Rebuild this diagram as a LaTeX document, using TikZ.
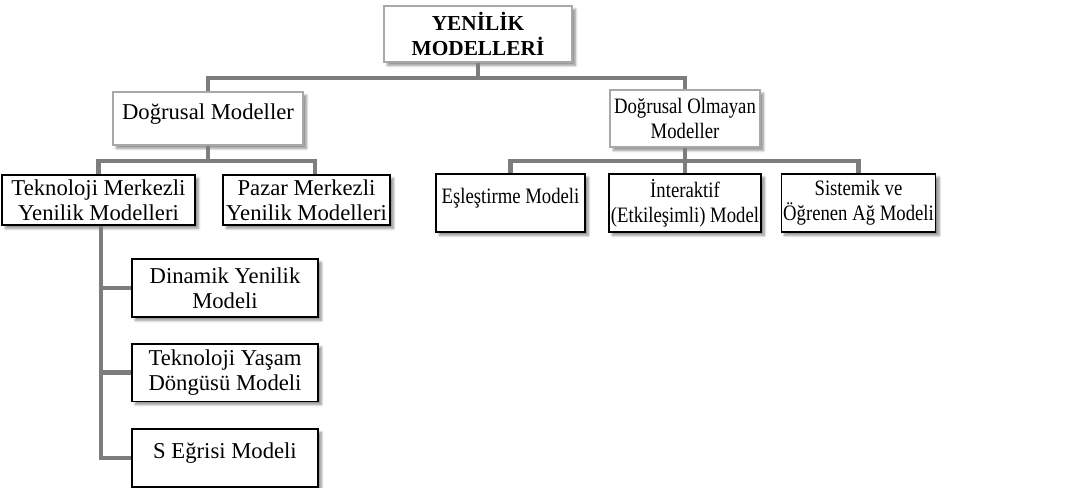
\documentclass[tikz,border=0pt]{standalone}
\usepackage{fontspec}
\setmainfont{Liberation Serif}
\newfontfamily\narrowserif[FakeStretch=0.85]{Liberation Serif}
\usetikzlibrary{shadows,shadows.blur,positioning}
\definecolor{bargray}{HTML}{7D7D7D}
\definecolor{framegray}{HTML}{A8A8A8}

\begin{document}
\begin{tikzpicture}[x=0.75pt, y=-0.75pt,
  box/.style={fill=white, line width=1pt, align=center, inner sep=1.5pt,
    font=\fontsize{17}{18.5}\selectfont,
    blur shadow={shadow xshift=2.5pt, shadow yshift=-2.5pt, shadow blur steps=6, shadow opacity=45}},
  narrow/.style={font=\narrowserif\fontsize{16.5}{19}\selectfont},
  headbox/.style={box, draw=framegray},
  leafbox/.style={box, draw=black},
  upper/.style={text depth=11pt},
  conn/.style={draw=bargray, line width=3.2pt}]
  \useasboundingbox (0,0) rectangle (1066,488);

  % root
  \node[headbox, minimum width=141pt, minimum height=42pt,
        font=\fontsize{16}{19}\selectfont\bfseries] (root) at (478,34) {YENİLİK\\MODELLERİ};

  % second level
  \node[headbox, upper, minimum width=142.5pt, minimum height=39.75pt] (dm) at (208,118.5) {Doğrusal Modeller};
  \node[headbox, narrow, minimum width=112.5pt, minimum height=42.75pt] (dom) at (685,118.5) {Doğrusal Olmayan\\Modeller};

  % third level, left
  \node[leafbox, minimum width=144.75pt, minimum height=37.5pt] (tm) at (98.5,200) {Teknoloji Merkezli\\Yenilik Modelleri};
  \node[leafbox, minimum width=125.25pt, minimum height=37.5pt] (pm) at (306.5,200) {Pazar Merkezli\\Yenilik Modelleri};

  % third level, right
  \node[leafbox, narrow, upper, minimum width=111.75pt, minimum height=43.5pt] (es) at (510.5,203) {Eşleştirme Modeli};
  \node[leafbox, narrow, minimum width=112.5pt, minimum height=43.5pt] (ia) at (685,203) {İnteraktif\\(Etkileşimli) Model};
  \node[leafbox, narrow, minimum width=111.75pt, minimum height=43.5pt] (sa) at (858.5,203) {Sistemik ve\\Öğrenen Ağ Modeli};

  % technology-driven models
  \node[leafbox, minimum width=139.5pt, minimum height=43.5pt] (dy) at (225,288) {Dinamik Yenilik\\Modeli};
  \node[leafbox, minimum width=139.5pt, minimum height=43pt] (ty) at (225,372.5) {Teknoloji Yaşam\\Döngüsü Modeli};
  \node[leafbox, upper, minimum width=139.5pt, minimum height=43.5pt] (se) at (225,458) {S Eğrisi Modeli};

  % connectors
  \draw[conn] (root.south) -- ++(0,15) coordinate (b0) -| (dm.north);
  \draw[conn] (b0) -| (dom.north);
  \draw[conn] (dm.south) -- ++(0,15) coordinate (b1) -| (tm.north);
  \draw[conn] (b1) -| ([xshift=6.5pt]pm.north);
  \draw[conn] (dom.south) -- ++(0,13) coordinate (b2) -| (es.north);
  \draw[conn] (b2) -- (ia.north);
  \draw[conn] (b2) -| (sa.north);
  \draw[conn] ([xshift=2pt]tm.south) |- (se.west);
  \draw[conn] ([xshift=2pt]tm.south |- dy.west) -- (dy.west);
  \draw[conn] ([xshift=2pt]tm.south |- ty.west) -- (ty.west);
\end{tikzpicture}
\end{document}
